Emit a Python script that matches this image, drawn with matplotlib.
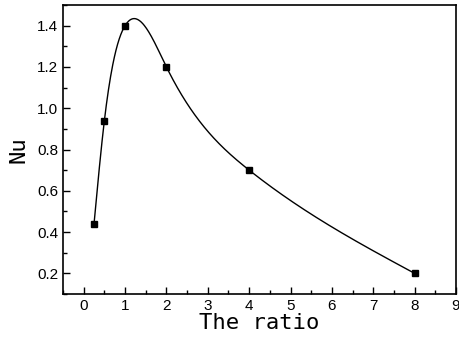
import numpy as np
import matplotlib
matplotlib.use('Agg')
import matplotlib.pyplot as plt
from matplotlib.ticker import MultipleLocator

ratio = [0.25, 0.5, 1, 2, 4, 8]
nu = [0.44, 0.94, 1.40, 1.20, 0.70, 0.20]
xticks = [0, 1, 2, 3, 4, 5, 6, 7, 8, 9]
yticks = [0.2, 0.4, 0.6, 0.8, 1.0, 1.2, 1.4]


def natural_spline(x, y, xs):
	x = np.asarray(x, float)
	y = np.asarray(y, float)
	n = len(x)
	h = np.diff(x)
	A = np.zeros((n, n))
	b = np.zeros(n)
	A[0, 0] = 1
	A[-1, -1] = 1
	for i in range(1, n - 1):
		A[i, i - 1] = h[i - 1]
		A[i, i] = 2 * (h[i - 1] + h[i])
		A[i, i + 1] = h[i]
		b[i] = 3 * ((y[i + 1] - y[i]) / h[i] - (y[i] - y[i - 1]) / h[i - 1])
	c = np.linalg.solve(A, b)
	out = np.zeros_like(xs)
	for j, xv in enumerate(xs):
		i = min(max(np.searchsorted(x, xv) - 1, 0), n - 2)
		dx = xv - x[i]
		bb = (y[i + 1] - y[i]) / h[i] - h[i] * (2 * c[i] + c[i + 1]) / 3
		d = (c[i + 1] - c[i]) / (3 * h[i])
		out[j] = y[i] + bb * dx + c[i] * dx ** 2 + d * dx ** 3
	return out


xs = np.linspace(ratio[0], ratio[-1], 600)
ys = natural_spline(ratio, nu, xs)

fig = plt.figure(figsize=(4.6, 3.42), dpi=100)
ax = fig.add_axes([63 / 460, 48 / 342, 393 / 460, 289 / 342])

ax.plot(xs, ys, color='black', lw=1.0)
ax.plot(ratio, nu, 's', color='black', markersize=5)

ax.set_xlim(-0.5, 9)
ax.set_ylim(0.1, 1.5)
ax.set_xticks(xticks)
ax.set_yticks(yticks)
ax.set_yticklabels(['%.1f' % v for v in yticks])
ax.xaxis.set_minor_locator(MultipleLocator(0.5))
ax.yaxis.set_minor_locator(MultipleLocator(0.1))
ax.tick_params(which='both', direction='in', labelsize=11, width=1, top=False, right=False)
ax.tick_params(which='major', length=5)
ax.tick_params(which='minor', length=3)
for lbl in ax.get_xticklabels() + ax.get_yticklabels():
	lbl.set_fontfamily('Liberation Sans')
for s in ax.spines.values():
	s.set_linewidth(1.2)

ax.set_xlabel('The ratio', fontsize=16, fontfamily='DejaVu Sans Mono', labelpad=0)
ax.set_ylabel('Nu', fontsize=16, fontfamily='DejaVu Sans Mono', labelpad=6)

fig.savefig('out.png', dpi=100)
